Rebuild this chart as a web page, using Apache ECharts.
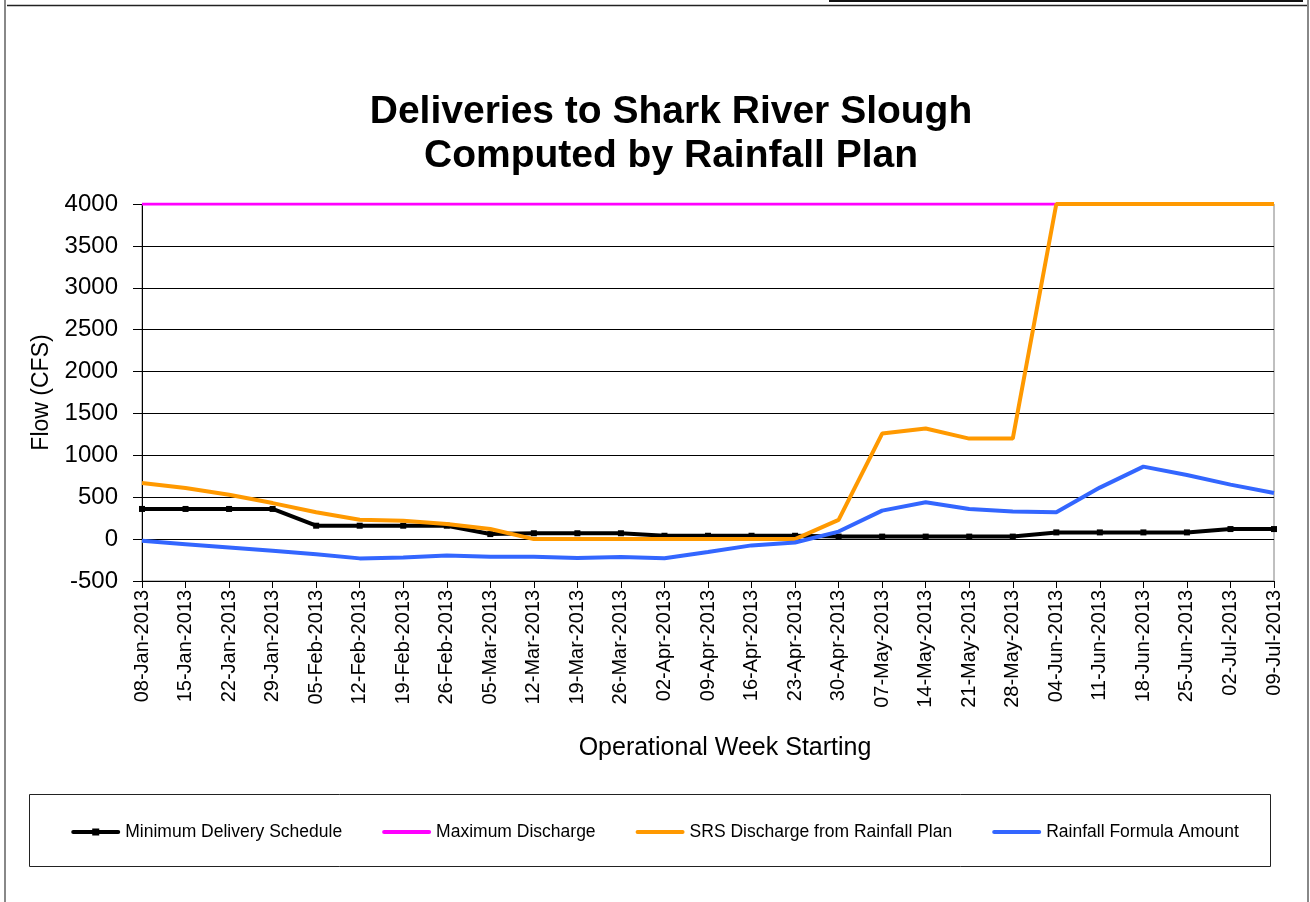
<!DOCTYPE html>
<html>
<head>
<meta charset="utf-8">
<script src="https://cdn.jsdelivr.net/npm/echarts@6/dist/echarts.min.js"></script>
<style>
html,body{margin:0;padding:0;background:#fff;}
#chart{width:1310px;height:902px;}
</style>
</head>
<body>
<div id="chart"></div>
<script>
var categories = ['08-Jan-2013','15-Jan-2013','22-Jan-2013','29-Jan-2013','05-Feb-2013','12-Feb-2013','19-Feb-2013','26-Feb-2013','05-Mar-2013','12-Mar-2013','19-Mar-2013','26-Mar-2013','02-Apr-2013','09-Apr-2013','16-Apr-2013','23-Apr-2013','30-Apr-2013','07-May-2013','14-May-2013','21-May-2013','28-May-2013','04-Jun-2013','11-Jun-2013','18-Jun-2013','25-Jun-2013','02-Jul-2013','09-Jul-2013'];
var minDelivery = [360,360,360,360,160,160,160,160,60,70,70,70,40,40,40,40,30,30,30,30,30,80,80,80,80,120,120];
var maxDischarge = [4000,4000,4000,4000,4000,4000,4000,4000,4000,4000,4000,4000,4000,4000,4000,4000,4000,4000,4000,4000,4000,4000,4000,4000,4000,4000,4000];
var srsDischarge = [670,610,530,430,320,230,220,180,120,0,0,0,0,0,0,0,230,1260,1320,1200,1200,4000,4000,4000,4000,4000,4000];
var rainfallFormula = [-20,-60,-100,-140,-180,-230,-220,-195,-210,-210,-225,-215,-228,-155,-75,-40,90,340,440,360,330,320,615,865,765,650,550];
var seriesNames = ['Minimum Delivery Schedule','Maximum Discharge','SRS Discharge from Rainfall Plan','Rainfall Formula Amount'];
var yTicks = {min:-500, max:4000, interval:500};

var FONT = '"Liberation Sans", Arial, sans-serif';
var LINE_ICON = 'path://M2,2 L47,2 A2,2 0 0 1 47,6 L2,6 A2,2 0 0 1 2,2 Z';
var MARK_ICON = 'path://M2,3 L47,3 A2,2 0 0 1 47,7 L2,7 A2,2 0 0 1 2,3 Z M21,1.5 L28,1.5 L28,8.5 L21,8.5 Z';
var chart = echarts.init(document.getElementById('chart'), null, {renderer:'canvas'});
chart.setOption({
  animation:false,
  backgroundColor:'#ffffff',
  title:{
    text:'Deliveries to Shark River Slough\nComputed by Rainfall Plan',
    left:666, top:85, textAlign:'center',
    textStyle:{fontFamily:FONT, fontSize:39, fontWeight:'bold', color:'#000', lineHeight:44}
  },
  grid:{left:142, top:204, width:1132, height:377, show:true, borderColor:'#808080', borderWidth:1, backgroundColor:'transparent'},
  legend:{
    data:[
      {name:seriesNames[0], icon:MARK_ICON},
      {name:seriesNames[1], icon:LINE_ICON},
      {name:seriesNames[2], icon:LINE_ICON},
      {name:seriesNames[3], icon:LINE_ICON}
    ],
    left:'center', top:818,
    itemWidth:49, itemHeight:8, itemGap:40,
    textStyle:{fontFamily:FONT, fontSize:17.5, color:'#000'}
  },
  xAxis:{
    type:'category', data:categories, boundaryGap:false,
    axisLine:{onZero:false, lineStyle:{color:'#000', width:1}},
    axisTick:{show:true, alignWithLabel:true, length:7, lineStyle:{color:'#000'}},
    axisLabel:{rotate:90, interval:0, margin:9, fontFamily:FONT, fontSize:20, color:'#000'},
    splitLine:{show:false}
  },
  yAxis:{
    type:'value', min:yTicks.min, max:yTicks.max, interval:yTicks.interval,
    name:'Flow (CFS)', nameLocation:'middle', nameGap:89,
    nameTextStyle:{fontFamily:FONT, fontSize:23, color:'#000'},
    axisLine:{show:true, lineStyle:{color:'#000', width:1}},
    axisTick:{show:true, length:9, lineStyle:{color:'#000'}},
    axisLabel:{margin:24, fontFamily:FONT, fontSize:24, color:'#000', formatter:function(v){return String(v);}},
    splitLine:{show:true, lineStyle:{color:'#000', width:1}}
  },
  series:[
    {name:seriesNames[0], type:'line', data:minDelivery, symbol:'rect', symbolSize:6, showSymbol:true,
      itemStyle:{color:'#000'}, lineStyle:{color:'#000', width:4}, z:3},
    {name:seriesNames[1], type:'line', data:maxDischarge, symbol:'none',
      itemStyle:{color:'#FF00FF'}, lineStyle:{color:'#FF00FF', width:3}, z:2},
    {name:seriesNames[2], type:'line', data:srsDischarge, symbol:'none',
      itemStyle:{color:'#FF9900'}, lineStyle:{color:'#FF9900', width:4}, z:4},
    {name:seriesNames[3], type:'line', data:rainfallFormula, symbol:'none',
      itemStyle:{color:'#3366FF'}, lineStyle:{color:'#3366FF', width:4}, z:5}
  ],
  graphic:[
    {type:'text', x:725, y:748, style:{text:'Operational Week Starting', x:0, y:0, align:'center', verticalAlign:'middle', font:'25px ' + FONT, fill:'#000'}},
    {type:'rect', shape:{x:29.5, y:794.5, width:1241, height:72}, style:{fill:'none', stroke:'#222', lineWidth:1}},
    {type:'line', shape:{x1:5, y1:0, x2:5, y2:902}, style:{stroke:'#888', lineWidth:2}},
    {type:'line', shape:{x1:1308, y1:0, x2:1308, y2:902}, style:{stroke:'#888', lineWidth:2}},
    {type:'line', shape:{x1:7, y1:5.5, x2:1307, y2:5.5}, style:{stroke:'#222', lineWidth:1.5}},
    {type:'line', shape:{x1:829, y1:1, x2:1303, y2:1}, style:{stroke:'#111', lineWidth:2}}
  ]
});
</script>
</body>
</html>
